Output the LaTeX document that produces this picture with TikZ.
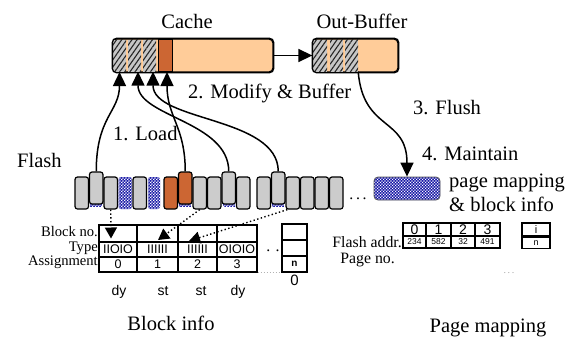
\documentclass[tikz,border=0pt]{standalone}
\usepackage{fontspec}
\setmainfont{Liberation Serif}
\setsansfont{Liberation Sans}
\usetikzlibrary{arrows.meta,patterns,patterns.meta,calc}
\definecolor{peach}{HTML}{FFCC99}
\definecolor{rust}{HTML}{CC6633}
\definecolor{navyb}{HTML}{1C1CA8}
\definecolor{blkgray}{HTML}{CCCCCC}
\pgfdeclarepatternformonly{checkdots}{\pgfpointorigin}{\pgfpoint{3.2pt}{3.2pt}}{\pgfpoint{3.2pt}{3.2pt}}{%
  \pgfpathrectangle{\pgfpointorigin}{\pgfpoint{1.5pt}{1.5pt}}%
  \pgfpathrectangle{\pgfpoint{1.6pt}{1.6pt}}{\pgfpoint{1.5pt}{1.5pt}}%
  \pgfusepath{fill}}
\newcommand\fbig{\fontsize{20.5}{24}\selectfont}
\newcommand\flab{\fontsize{15.8}{18}\selectfont}
\newcommand\frow{\fontsize{14.6}{16}\selectfont}
\newcommand\fsn{\sffamily\fontsize{12.5}{14}\selectfont}
\begin{document}
\begin{tikzpicture}[x=1pt,y=-1pt,
  txt/.style={inner sep=0, font=\fbig},
  lab/.style={inner sep=0, font=\flab},
  rowlab/.style={inner sep=0, font=\frow, anchor=base east},
  bar/.style={draw, line width=1.3, rounded corners=4, fill=peach, inner sep=0, minimum height=33},
  hatchseg/.style={inner sep=0, minimum height=32, pattern={Lines[angle=55, distance=4.2pt, line width=1.1pt]}, pattern color=black!85, preaction={fill=gray!45}},
  rustseg/.style={draw, line width=1, inner sep=0, minimum width=14, minimum height=32, fill=rust},
  fblock/.style={draw, line width=1.2, rounded corners=2.5, inner sep=0, minimum width=13.5, minimum height=32, fill=blkgray},
  fblue/.style={inner sep=0, rounded corners=2.5, minimum width=13.5, minimum height=32, pattern=checkdots, pattern color=white, preaction={fill=navyb}},
  fstrip/.style={inner sep=0, minimum width=12, minimum height=10, pattern=checkdots, pattern color=white, preaction={fill=navyb}},
  cell/.style={draw, line width=1.1, inner sep=0, font=\fsn},
  bigarrow/.style={line width=1.5, -{Triangle[length=14,width=13]}},
  dotarrow/.style={line width=1.4, dash pattern=on 1.4pt off 2.4pt, -{Triangle[length=11,width=12]}}
]
\useasboundingbox (0,0) rectangle (574,338);

% ---- Cache ----
\node[txt, anchor=base] (tcache) at (187,28) {Cache};
\node[bar, minimum width=160] (cache) at (193,55.5) {};
\node[hatchseg, minimum width=13] (c1) at (119.5,55.5) {};
\node[hatchseg, minimum width=13] (c2) at (134.5,55.5) {};
\node[hatchseg, minimum width=13] (c3) at (149.5,55.5) {};
\node[rustseg] (c4) at (165,55.5) {};
\draw[line width=1.3, rounded corners=4] (cache.north west) rectangle (cache.south east);

% ---- Out-Buffer ----
\node[txt, anchor=base] (tob) at (362,28) {Out-Buffer};
\node[bar, minimum width=85] (ob) at (355.5,55.5) {};
\node[hatchseg, minimum width=14] (o1) at (320,55.5) {};
\node[hatchseg, minimum width=13] (o2) at (336.5,55.5) {};
\node[hatchseg, minimum width=13] (o3) at (351.5,55.5) {};
\draw[line width=1.3, rounded corners=4] (ob.north west) rectangle (ob.south east);

\draw[bigarrow] (cache.east) -- (ob.west);

% ---- labels ----
\node[txt, anchor=base west] (tmod) at (188,98) {2. Modify \& Buffer};
\node[txt, anchor=base west] (tload) at (113,140) {1. Load};
\node[txt, anchor=base west] (tflash) at (17,167) {Flash};
\node[txt, anchor=base west] (tflush) at (413,114) {3. Flush};
\node[txt, anchor=base west] (tm1) at (422,160) {4. Maintain};
\node[txt, anchor=base west] (tm2) at (449,187) {page mapping};
\node[txt, anchor=base west] (tm3) at (449,211) {\& block info};

% ---- Flash blocks ----
\node[fstrip] (sa2) at (96.25,202) {};
\node[fstrip] (sb2) at (185.25,202) {};
\node[fstrip] (sb5) at (228.75,202) {};
\node[fstrip] (sd2) at (278.25,202) {};
% group 1
\node[fblock] (a1) at (81.75,193) {};
\node[fblock] (a2) at (96.25,188) {};
\node[fblock] (a3) at (110.75,193) {};
\node[fblue]  (a4) at (125.25,193) {};
\node[fblock] (a5) at (139.75,193) {};
\node[fblue, minimum width=12] (a6) at (154,193) {};
% group 2
\node[fblock, fill=rust] (b1) at (170.75,193) {};
\node[fblock, fill=rust] (b2) at (185.25,188) {};
\node[fblock] (b3) at (199.75,193) {};
\node[fblock] (b4) at (214.25,193) {};
\node[fblock] (b5) at (228.75,188) {};
\node[fblock] (b6) at (243.25,193) {};
% group 3
\node[fblock] (d1) at (263.75,193) {};
\node[fblock] (d2) at (278.25,188) {};
\node[fblock] (d3) at (292.75,193) {};
\node[fblock] (d4) at (307.25,193) {};
\node[fblock] (d5) at (321.75,193) {};
\node[fblock] (d6) at (336.25,193) {};
\node[lab, anchor=base] (fdots) at (358,199) {.\,.\,.};

% ---- page-mapping flash block ----
\node[fblue, draw=gray!70!black, line width=0.8, rounded corners=4, minimum width=66, minimum height=23] (pm) at (407,188.5) {};

% ---- Load arrows ----
\draw[bigarrow] (a2.north) .. controls +(0,-55) and +(0,40) .. (c1.south);
\draw[bigarrow] (b5.north) .. controls +(0,-50) and +(0,45) .. ([xshift=3.5pt]c2.south);
\draw[bigarrow] (d2.north) .. controls +(0,-55) and +(0,50) .. ([xshift=3.5pt]c3.south);
\draw[bigarrow] (b2.north) .. controls +(0,-45) and +(0,45) .. ([xshift=2pt]c4.south);

% ---- Flush arrow ----
\draw[bigarrow] (o3.south east) .. controls +(5,60) and +(0,-60) .. (pm.north);

% ---- Block info table ----
\node[rowlab] (lbn) at (98,236.5) {Block no.};
\node[rowlab] (lty) at (98,251) {Type};
\node[rowlab] (las) at (98,265.5) {Assignment};

\node[cell, minimum width=38, minimum height=17] (bn0) at (118,233.5) {};
\node[cell, minimum width=41, minimum height=17] (bn1) at (157.5,233.5) {};
\node[cell, minimum width=39, minimum height=17] (bn2) at (197.5,233.5) {};
\node[cell, minimum width=40, minimum height=17] (bn3) at (237,233.5) {};
\node[cell, minimum width=38, minimum height=15] (ty0) at (118,249.5) {IIOIO};
\node[cell, minimum width=41, minimum height=15] (ty1) at (157.5,249.5) {IIIIII};
\node[cell, minimum width=39, minimum height=15] (ty2) at (197.5,249.5) {IIIIII};
\node[cell, minimum width=40, minimum height=15] (ty3) at (237,249.5) {OIOIO};
\node[cell, minimum width=38, minimum height=15] (as0) at (118,264.5) {0};
\node[cell, minimum width=41, minimum height=15] (as1) at (157.5,264.5) {1};
\node[cell, minimum width=39, minimum height=15] (as2) at (197.5,264.5) {2};
\node[cell, minimum width=40, minimum height=15] (as3) at (237,264.5) {3};

\node[lab, anchor=base] (tdots) at (273,251) {.\,\,.};
\node[cell, minimum width=25, minimum height=16] (r0) at (294.5,232) {};
\node[cell, minimum width=25, minimum height=16] (r1) at (294.5,248) {};
\node[cell, minimum width=25, minimum height=16, font=\sffamily\bfseries\fontsize{10}{12}\selectfont] (r2) at (294.5,264) {n};
\node[inner sep=0, font=\sffamily\fontsize{15}{17}\selectfont] (rz) at (294.5,280) {0};
\draw[gray!60, line width=0.8, dash pattern=on 1pt off 2pt] (as3.south east) -- (r2.south west);

\node[inner sep=0, font=\sffamily\fontsize{14}{16}\selectfont, anchor=base] (k1) at (119,295) {dy};
\node[inner sep=0, font=\sffamily\fontsize{14}{16}\selectfont, anchor=base] (k2) at (163,295) {st};
\node[inner sep=0, font=\sffamily\fontsize{14}{16}\selectfont, anchor=base] (k3) at (201,295) {st};
\node[inner sep=0, font=\sffamily\fontsize{14}{16}\selectfont, anchor=base] (k4) at (238,295) {dy};
\node[txt, anchor=base] (tbi) at (171,330) {Block info};

% ---- dotted arrows ----
\draw[dotarrow] (a3.south) -- ($(bn0.center)+(-7,5)$);
\draw[dotarrow] (b3.south) -- ($(bn1.center)+(0.5,6.5)$);
\draw[dotarrow] ($(d3.south west)+(2,0)$) -- ($(bn2.center)+(-8.5,7.5)$);

% ---- Page mapping table ----
\node[cell, minimum width=23, minimum height=13, font=\sffamily\fontsize{14}{16}\selectfont] (h0) at (414.5,229.5) {0};
\node[cell, minimum width=25, minimum height=13, font=\sffamily\fontsize{14}{16}\selectfont] (h1) at (438.5,229.5) {1};
\node[cell, minimum width=24, minimum height=13, font=\sffamily\fontsize{14}{16}\selectfont] (h2) at (463,229.5) {2};
\node[cell, minimum width=25, minimum height=13, font=\sffamily\fontsize{14}{16}\selectfont] (h3) at (487.5,229.5) {3};
\node[cell, minimum width=23, minimum height=12, font=\sffamily\fontsize{8.5}{10}\selectfont] (v0) at (414.5,242) {234};
\node[cell, minimum width=25, minimum height=12, font=\sffamily\fontsize{8.5}{10}\selectfont] (v1) at (438.5,242) {582};
\node[cell, minimum width=24, minimum height=12, font=\sffamily\fontsize{8.5}{10}\selectfont] (v2) at (463,242) {32};
\node[cell, minimum width=25, minimum height=12, font=\sffamily\fontsize{8.5}{10}\selectfont] (v3) at (487.5,242) {491};
\node[cell, minimum width=28, minimum height=13, font=\sffamily\fontsize{11}{13}\selectfont] (pi) at (536,229.5) {i};
\node[cell, minimum width=28, minimum height=11, font=\sffamily\fontsize{9}{11}\selectfont] (pn) at (536,243) {n};
\node[lab, anchor=base east] (lfa) at (402,247) {Flash addr.};
\node[lab, anchor=base east] (lpn) at (395,263) {Page no.};
\node[inner sep=0, text=gray!70, font=\fontsize{10}{12}\selectfont, anchor=base] (pdots) at (509,273) {.\,.\,.};
\node[txt, anchor=base] (tpm) at (488,332) {Page mapping};
\end{tikzpicture}
\end{document}
